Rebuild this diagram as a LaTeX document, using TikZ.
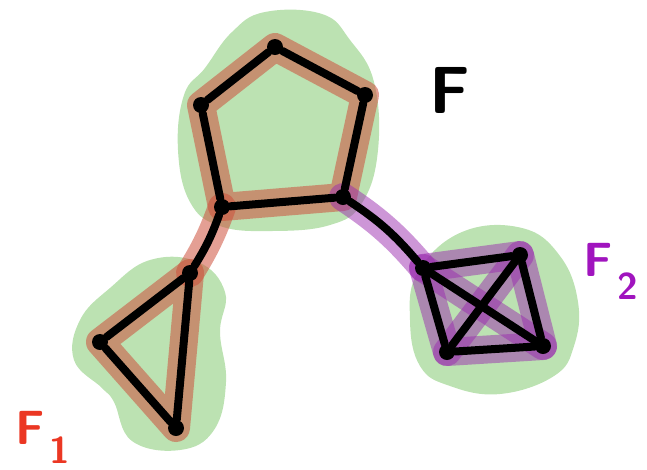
\documentclass[tikz,border=0pt]{standalone}
\usepackage{fontspec}
\definecolor{blobgreen}{RGB}{188,226,178}
\definecolor{hred}{RGB}{205,80,60}
\definecolor{hpurple}{RGB}{155,45,175}
\definecolor{lblred}{RGB}{235,55,35}
\definecolor{lblpurple}{RGB}{160,20,190}
\begin{document}
\begin{tikzpicture}[x=0.75pt,y=-0.75pt,
  vtx/.style={circle,fill=black,inner sep=0pt,minimum size=12pt},
  edge/.style={line width=6pt,line cap=round},
  hlred/.style={line width=21pt,line cap=round,line join=round,draw=hred,opacity=0.55},
  hlpurple/.style={line width=21pt,line cap=round,line join=round,draw=hpurple,opacity=0.5},
  blob/.style={fill=blobgreen}]
\useasboundingbox (0,0) rectangle (647,469);
% green blobs
\fill[blob] plot[smooth cycle,tension=0.7] coordinates {(232,32) (265,12) (322,14) (350,40) (374,82) (378,150) (362,203) (330,225) (272,231) (220,226) (190,202) (178,150) (184,95) (205,68)};
\fill[blob] plot[smooth cycle,tension=0.7] coordinates {(150,260) (198,262) (225,292) (220,332) (226,382) (214,430) (180,450) (132,441) (114,402) (102,388) (74,360) (80,320) (110,288)};
\fill[blob] plot[smooth cycle,tension=0.7] coordinates {(462,232) (522,228) (560,256) (578,302) (574,346) (554,376) (500,394) (450,386) (420,366) (410,320) (418,272)};
% positions
\coordinate (c1) at (275,47);
\coordinate (c2) at (365,95);
\coordinate (c3) at (343,197);
\coordinate (c4) at (222,207);
\coordinate (c5) at (201,105);
\coordinate (d1) at (190,273);
\coordinate (d2) at (100,342);
\coordinate (d3) at (176,428);
\coordinate (e1) at (423,268);
\coordinate (e2) at (520,255);
\coordinate (e3) at (543,346);
\coordinate (e4) at (447,352);
% highlights
\draw[hlred] (c1)--(c2)--(c3)--(c4)--(c5)--cycle;
\draw[hlred] (d1)--(d2)--(d3)--cycle;
\draw[hlred] (c4) to[bend left=6] (d1);
\draw[hlpurple] (c3) to[bend left=8] (e1);
\draw[hlpurple] (e1)--(e2)--(e3)--(e4)--cycle;
\draw[hlpurple] (e1)--(e3);
\draw[hlpurple] (e2)--(e4);
% vertices
\node[vtx] (p1) at (c1) {};
\node[vtx] (p2) at (c2) {};
\node[vtx] (p3) at (c3) {};
\node[vtx] (p4) at (c4) {};
\node[vtx] (p5) at (c5) {};
\node[vtx] (t1) at (d1) {};
\node[vtx] (t2) at (d2) {};
\node[vtx] (t3) at (d3) {};
\node[vtx] (k1) at (e1) {};
\node[vtx] (k2) at (e2) {};
\node[vtx] (k3) at (e3) {};
\node[vtx] (k4) at (e4) {};
% edges
\draw[edge] (p1)--(p2)--(p3)--(p4)--(p5)--(p1);
\draw[edge] (t1)--(t2)--(t3)--(t1);
\draw[edge] (p4) to[bend left=6] (t1);
\draw[edge] (p3) to[bend left=8] (k1);
\draw[edge] (k1)--(k2)--(k3)--(k4)--(k1);
\draw[edge] (k1)--(k3);
\draw[edge] (k2)--(k4);
% labels
\node[font=\sffamily\bfseries\fontsize{50}{50}\selectfont] (lF) at (450,90) {F};
\node[font=\sffamily\bfseries\fontsize{36}{36}\selectfont,text=lblpurple] (lF2) at (598,260) {F};
\node[font=\sffamily\bfseries\fontsize{28}{28}\selectfont,text=lblpurple] (lF2s) at (628,286) {2};
\node[font=\sffamily\bfseries\fontsize{36}{36}\selectfont,text=lblred] (lF1) at (30,428) {F};
\node[font=\sffamily\bfseries\fontsize{28}{28}\selectfont,text=lblred] (lF1s) at (60,450) {1};
\end{tikzpicture}
\end{document}
